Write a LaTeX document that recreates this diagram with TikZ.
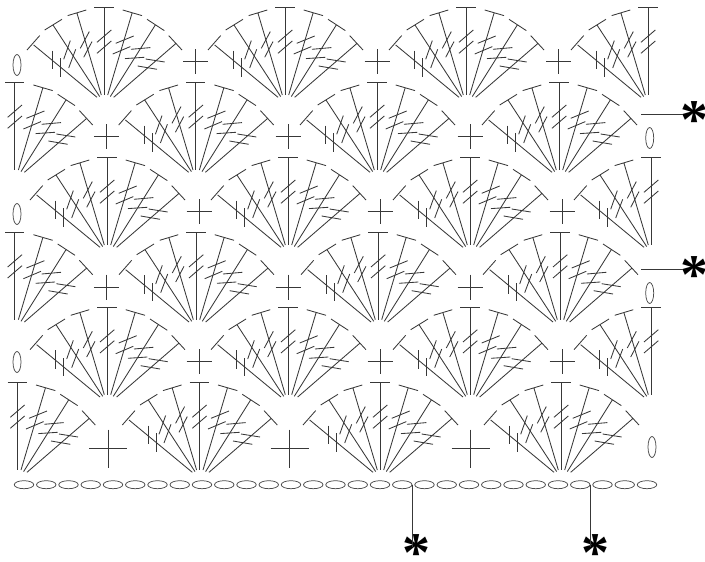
\documentclass[tikz,border=0pt]{standalone}
\usepackage{fontspec}
\newfontfamily\starfont[BoldFont={Liberation Serif Bold}]{Liberation Serif}
\newcommand{\starglyph}{\makebox[.4em]{\raisebox{-.23em}[.41em][0pt]{\bfseries *}}}
\usetikzlibrary{positioning, shapes.geometric}

% Metades do leque, relativas ao topo da haste central
\newcommand{\fanleft}{
    \draw (-77,42.7) -- (-64.3,28.3) (-70.3,37.7) -- (-7,90);
    \draw (-59.3,22.7) -- (-42,12) (-51,17.7) -- (-4.3,89.3);
    \draw (-36.3,8.3) -- (-17.7,2.7) (-27,6) -- (-2.7,87.7);
    \draw (-51.3,43.3) -- (-51.3,62) (-43.3,51) -- (-43.3,69.3);
    \draw (-33.7,33.3) -- (-40.3,52) (-28.3,42) -- (-35.3,60.7);
    \draw (-14.7,24.3) -- (-23.7,41) (-12,34.3) -- (-20.3,50);
}
\newcommand{\fanmid}{
    \draw (-9.7,0) -- (9.7,0) (0,0) -- (0,87.7);
    \draw (7.3,22.7) -- (-7,35) (7.3,33.7) -- (-7,46);
}
\newcommand{\fanright}{
    \draw (18.7,2.7) -- (38,8.3) (28,6) -- (3.7,87.7);
    \draw (43,12) -- (60.3,23.3) (51.3,17.7) -- (6.3,89.3);
    \draw (64.7,28.3) -- (78,42.7) (71.3,36.7) -- (9.7,90);
    \draw (29.7,28.7) -- (11.7,36) (26.3,39.3) -- (8.7,46.7);
    \draw (46.3,40.3) -- (27,42) (40.3,50) -- (21,51.3);
    \draw (60.7,54.7) -- (41.7,51.7) (53,62) -- (33.7,58.7);
}

\begin{document}
\begin{tikzpicture}[
    x=1pt, y=-1pt,
    stitch/.style={line width=0.85pt, draw=black!78},
    vloop/.style={draw=black!70, line width=0.75pt, ellipse, inner sep=0pt, minimum width=8pt, minimum height=21pt},
    chloop/.style={draw=black!70, line width=0.75pt, ellipse, inner sep=0pt, minimum width=19.5pt, minimum height=8pt},
    starmark/.style={font=\starfont\fontsize{56}{56}\selectfont, inner sep=0pt}
]
    \useasboundingbox (0,0) rectangle (705,562);

    % Leques completos
    \begin{scope}[stitch]
    \foreach \fx/\fy in {104/7.3, 285/7.3, 466/7.3,
                         195.7/82.3, 377/82.3, 559/82.3,
                         107/157.3, 288/157.3, 470/157.3,
                         196/232, 378/232, 560/232,
                         107/307, 288/307, 470/307,
                         199.3/382.3, 380/382.3, 561/382.3} {
        \begin{scope}[shift={(\fx,\fy)}]
            \fanleft \fanmid \fanright
        \end{scope}
    }

    % Meios leques nas bordas
    \foreach \fx/\fy in {14.7/82.3, 14.7/232, 17.3/382.3} {
        \begin{scope}[shift={(\fx,\fy)}]
            \fanmid \fanright
        \end{scope}
    }
    \foreach \fx/\fy in {648/7.3, 651/157.3, 651/307} {
        \begin{scope}[shift={(\fx,\fy)}]
            \fanleft \fanmid
        \end{scope}
    }

    % Pontos baixos
    \foreach \px/\py in {195.7/61.7, 377/61.7, 558.5/61.7,
                         106.3/136.7, 288/136.7, 470/136.7,
                         199/211.5, 380/211.5, 562/211.5,
                         106.3/287, 288/287, 470/287,
                         199/361.5, 380/361.5, 562/361.5} {
        \draw[shift={(\px,\py)}] (-12.5,0) -- (12.5,0) (0,-12.5) -- (0,12.5);
    }
    \foreach \px in {108.3, 289.5, 470.5} {
        \draw[shift={(\px,448.7)}] (-19,0) -- (19,0) (0,-19) -- (0,19);
    }
    \end{scope}

    % Correntinhas verticais
    \node[vloop] (turnL1) at (17,65) {};
    \node[vloop] (turnL2) at (17,214) {};
    \node[vloop] (turnL3) at (17,362) {};
    \node[vloop] (turnR1) at (649.7,138) {};
    \node[vloop] (turnR2) at (649.7,293) {};
    \node[vloop] (turnR3) at (652,447) {};

    % Corrente de base
    \foreach \i in {1,...,29} {
        \node[chloop] (ch\i) at ({24+22.25*(\i-1)},484.7) {};
    }

    % Marcas de repeticao
    \node[starmark] (starR1) at (694,114) {\starglyph};
    \node[starmark] (starR2) at (694,269) {\starglyph};
    \node[starmark] (starB1) at (416,546.7) {\starglyph};
    \node[starmark] (starB2) at (595,546.7) {\starglyph};
    \coordinate (startR1) at (641,114);
    \coordinate (startR2) at (641,269);

    \draw[stitch] (startR1) -- (starR1);
    \draw[stitch] (startR2) -- (starR2);
    \draw[stitch] (ch18.east) -- (ch18.east |- starB1);
    \draw[stitch] (ch26.east) -- (ch26.east |- starB2);

\end{tikzpicture}
\end{document}
